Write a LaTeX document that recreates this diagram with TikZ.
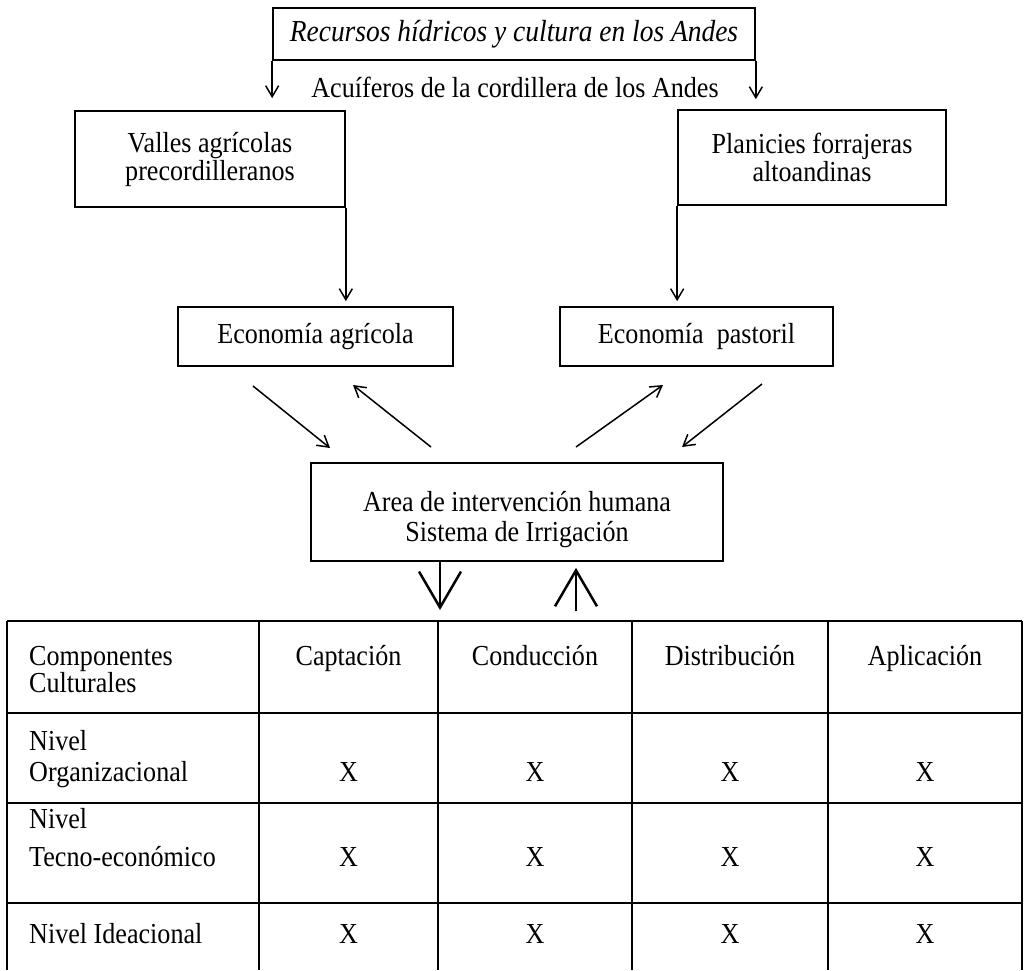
\documentclass[tikz,border=0pt]{standalone}
\usepackage{fontspec}
\setmainfont{Liberation Serif}[FakeStretch=0.9]
\usetikzlibrary{arrows.meta}
\begin{document}
\begin{tikzpicture}[x=1pt,y=-1pt,
  box/.style={draw, line width=1.7pt, rectangle, inner sep=0pt, align=center, font=\fontsize{29}{28}\selectfont},
  txt/.style={inner sep=0pt, font=\fontsize{29}{28}\selectfont},
  arr/.style={line width=1.5pt, -{Straight Barb[length=11pt,width=13pt]}},
  bigarr/.style={line width=2.5pt, -{Straight Barb[length=36pt,width=42pt]}},
  gridline/.style={line width=1.7pt}]
\useasboundingbox (0,0) rectangle (1027,970);

% boxes
\node[box, minimum width=482pt, minimum height=52pt, font=\fontsize{30.5}{30}\selectfont\itshape] (top) at (514,34) {Recursos hídricos y cultura en los Andes};
\node[txt, anchor=base] (acu) at (515,97) {Acuíferos de la cordillera de los Andes};
\node[box, minimum width=270pt, minimum height=96pt] (valles) at (210,159) {Valles agrícolas\\precordilleranos};
\node[box, minimum width=268pt, minimum height=95pt] (plan) at (812,157.5) {Planicies forrajeras\\altoandinas};
\node[box, minimum width=275pt, minimum height=59pt] (econA) at (315.5,336.5) {Economía agrícola};
\node[box, minimum width=273pt, minimum height=59pt] (econP) at (696.5,336.5) {Economía\hspace{0.45em}pastoril};
\node[box, minimum width=412pt, minimum height=98pt] (area) at (517,512) {};
\node[txt, align=center, font=\fontsize{29}{30}\selectfont] (areatxt) at (517,520) {Area de intervención humana\\Sistema de Irrigación};

% vertical arrows
\draw[arr, shorten >=12pt] (top.south west) -- (top.south west |- valles.north);
\draw[arr, shorten >=10pt] (top.south east) -- (top.south east |- plan.north);
\draw[arr, shorten >=5pt] (valles.south east) -- (valles.south east |- econA.north);
\draw[arr, shorten >=5pt] (plan.south west) -- (plan.south west |- econP.north);

% diagonal arrows
\coordinate (a1s) at (253,386); \coordinate (a1e) at (330,448);
\coordinate (a2s) at (431,447); \coordinate (a2e) at (353,385);
\coordinate (a3s) at (576,447); \coordinate (a3e) at (663,385);
\coordinate (a4s) at (762,384); \coordinate (a4e) at (682,447);
\draw[arr] (a1s) -- (a1e);
\draw[arr] (a2s) -- (a2e);
\draw[arr] (a3s) -- (a3e);
\draw[arr] (a4s) -- (a4e);

% big arrows
\coordinate (dn) at (440,610);
\coordinate (up) at (576,611);
\draw[bigarr] (dn |- area.south) -- (dn);
\draw[bigarr, shorten >=6pt] (up) -- (up |- area.south);

% table grid
\foreach \yy in {621,713,803,903} \draw[gridline] (7,\yy) -- (1022,\yy);
\foreach \xx in {7,259,438,632,828,1022} \draw[gridline] (\xx,621) -- (\xx,970);

% table text
\node[txt, anchor=base west] (c1) at (29,665) {Componentes};
\node[txt, anchor=base west] (c2) at (29,692) {Culturales};
\node[txt, anchor=base] (h1) at (348.5,665) {Captación};
\node[txt, anchor=base] (h2) at (535,665) {Conducción};
\node[txt, anchor=base] (h3) at (730,665) {Distribución};
\node[txt, anchor=base] (h4) at (925,665) {Aplicación};

\node[txt, anchor=base west] (r1a) at (29,750) {Nivel};
\node[txt, anchor=base west] (r1b) at (29,781) {Organizacional};
\node[txt, anchor=base west] (r2a) at (29,828) {Nivel};
\node[txt, anchor=base west] (r2b) at (29,866) {Tecno-económico};
\node[txt, anchor=base west] (r3a) at (29,943) {Nivel Ideacional};

\foreach \xx/\nn in {348.5/1,535/2,730/3,925/4} {
  \node[txt, anchor=base] (xa\nn) at (\xx,781) {X};
  \node[txt, anchor=base] (xb\nn) at (\xx,866) {X};
  \node[txt, anchor=base] (xc\nn) at (\xx,943) {X};
}
\end{tikzpicture}
\end{document}
